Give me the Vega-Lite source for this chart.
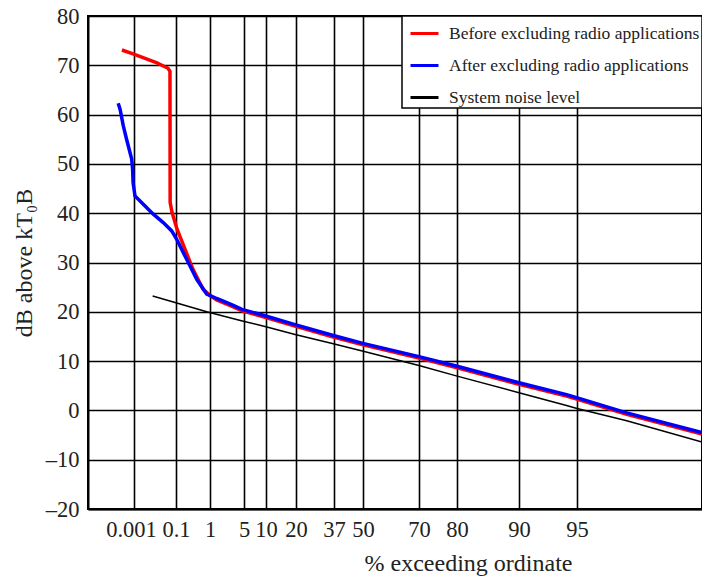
{
  "$schema": "https://vega.github.io/schema/vega-lite/v6.json",
  "width": 614,
  "height": 493,
  "autosize": {"type": "none"},
  "padding": {"left": 88, "top": 16, "right": 0, "bottom": 73},
  "background": "white",
  "config": {
    "view": {"stroke": "black", "strokeWidth": 2},
    "font": "Liberation Serif",
    "axis": {
      "labelFont": "Liberation Serif",
      "titleFont": "Liberation Serif",
      "labelColor": "#222",
      "titleColor": "#222",
      "titleFontWeight": "normal",
      "labelFontSize": 22.5,
      "titleFontSize": 24,
      "grid": true,
      "gridColor": "black",
      "gridOpacity": 1,
      "gridWidth": 1.6,
      "domainColor": "black",
      "domainWidth": 2,
      "ticks": false
    },
    "legend": {
      "orient": "top-right",
      "offset": 0,
      "padding": 2,
      "fillColor": "white",
      "strokeColor": "black",
      "strokeWidth": 1.5,
      "labelFont": "Liberation Serif",
      "labelFontSize": 17.5,
      "labelColor": "#222",
      "symbolType": "stroke",
      "symbolSize": 784,
      "symbolStrokeWidth": 3,
      "rowPadding": 8,
      "labelOffset": 9,
      "labelLimit": 400,
      "symbolOffset": 5
    }
  },
  "data": {
    "values": [
      {"series": "System noise level", "pct": 0.045, "db": 23.2},
      {"series": "System noise level", "pct": 0.0977, "db": 21.9},
      {"series": "System noise level", "pct": 0.913, "db": 20.0},
      {"series": "System noise level", "pct": 4.92, "db": 18.1},
      {"series": "System noise level", "pct": 9.77, "db": 17.0},
      {"series": "System noise level", "pct": 19.7, "db": 15.4},
      {"series": "System noise level", "pct": 36.7, "db": 13.5},
      {"series": "System noise level", "pct": 50.1, "db": 12.0},
      {"series": "System noise level", "pct": 70, "db": 9.1},
      {"series": "System noise level", "pct": 79.8, "db": 7.0},
      {"series": "System noise level", "pct": 90, "db": 3.6},
      {"series": "System noise level", "pct": 94.1, "db": 1.0},
      {"series": "System noise level", "pct": 95, "db": 0.4},
      {"series": "System noise level", "pct": 96.95, "db": -2.1},
      {"series": "System noise level", "pct": 99.9, "db": -6.4},

      {"series": "Before excluding radio applications", "pct": 0.00074, "db": 73.1},
      {"series": "Before excluding radio applications", "pct": 0.00098, "db": 72.3},
      {"series": "Before excluding radio applications", "pct": 0.0552, "db": 70.5},
      {"series": "Before excluding radio applications", "pct": 0.0811, "db": 69.4},
      {"series": "Before excluding radio applications", "pct": 0.0858, "db": 68.8},
      {"series": "Before excluding radio applications", "pct": 0.0862, "db": 42.2},
      {"series": "Before excluding radio applications", "pct": 0.0906, "db": 40.2},
      {"series": "Before excluding radio applications", "pct": 0.126, "db": 36.8},
      {"series": "Before excluding radio applications", "pct": 0.338, "db": 32.7},
      {"series": "Before excluding radio applications", "pct": 0.55, "db": 28.6},
      {"series": "Before excluding radio applications", "pct": 0.815, "db": 24.6},
      {"series": "Before excluding radio applications", "pct": 1.0, "db": 23.3},
      {"series": "Before excluding radio applications", "pct": 1.79, "db": 22.4},
      {"series": "Before excluding radio applications", "pct": 3.74, "db": 21.0},
      {"series": "Before excluding radio applications", "pct": 4.76, "db": 20.2},
      {"series": "Before excluding radio applications", "pct": 9.39, "db": 19.0},
      {"series": "Before excluding radio applications", "pct": 19.1, "db": 17.2},
      {"series": "Before excluding radio applications", "pct": 36.7, "db": 14.9},
      {"series": "Before excluding radio applications", "pct": 50, "db": 13.3},
      {"series": "Before excluding radio applications", "pct": 70, "db": 10.6},
      {"series": "Before excluding radio applications", "pct": 79.8, "db": 8.7},
      {"series": "Before excluding radio applications", "pct": 90, "db": 5.3},
      {"series": "Before excluding radio applications", "pct": 94.1, "db": 2.9},
      {"series": "Before excluding radio applications", "pct": 95.05, "db": 2.2},
      {"series": "Before excluding radio applications", "pct": 96.95, "db": -0.8},
      {"series": "Before excluding radio applications", "pct": 99.9, "db": -4.8},

      {"series": "After excluding radio applications", "pct": 0.00066, "db": 62.3},
      {"series": "After excluding radio applications", "pct": 0.0007, "db": 61.1},
      {"series": "After excluding radio applications", "pct": 0.00077, "db": 57.7},
      {"series": "After excluding radio applications", "pct": 0.00084, "db": 55.0},
      {"series": "After excluding radio applications", "pct": 0.00095, "db": 51.0},
      {"series": "After excluding radio applications", "pct": 0.00097, "db": 48.9},
      {"series": "After excluding radio applications", "pct": 0.00098, "db": 46.2},
      {"series": "After excluding radio applications", "pct": 0.0034, "db": 43.5},
      {"series": "After excluding radio applications", "pct": 0.0229, "db": 41.8},
      {"series": "After excluding radio applications", "pct": 0.0465, "db": 39.8},
      {"series": "After excluding radio applications", "pct": 0.07, "db": 38.1},
      {"series": "After excluding radio applications", "pct": 0.0899, "db": 36.4},
      {"series": "After excluding radio applications", "pct": 0.1185, "db": 34.7},
      {"series": "After excluding radio applications", "pct": 0.293, "db": 32.0},
      {"series": "After excluding radio applications", "pct": 0.471, "db": 29.3},
      {"series": "After excluding radio applications", "pct": 0.648, "db": 26.6},
      {"series": "After excluding radio applications", "pct": 0.913, "db": 23.6},
      {"series": "After excluding radio applications", "pct": 1.79, "db": 22.7},
      {"series": "After excluding radio applications", "pct": 3.74, "db": 21.3},
      {"series": "After excluding radio applications", "pct": 4.76, "db": 20.5},
      {"series": "After excluding radio applications", "pct": 9.39, "db": 19.3},
      {"series": "After excluding radio applications", "pct": 19.1, "db": 17.5},
      {"series": "After excluding radio applications", "pct": 36.7, "db": 15.2},
      {"series": "After excluding radio applications", "pct": 50, "db": 13.6},
      {"series": "After excluding radio applications", "pct": 70, "db": 10.9},
      {"series": "After excluding radio applications", "pct": 79.8, "db": 9.0},
      {"series": "After excluding radio applications", "pct": 90, "db": 5.6},
      {"series": "After excluding radio applications", "pct": 94.1, "db": 3.2},
      {"series": "After excluding radio applications", "pct": 95.05, "db": 2.5},
      {"series": "After excluding radio applications", "pct": 96.95, "db": -0.5},
      {"series": "After excluding radio applications", "pct": 99.9, "db": -4.5}
    ]
  },
  "encoding": {
    "x": {
      "field": "pct",
      "type": "quantitative",
      "scale": {
        "type": "linear",
        "domain": [0.00001, 0.001, 0.1, 1, 5, 10, 20, 37, 50, 70, 80, 90, 95, 99.9],
        "range": [0, 46, 88, 122, 156, 178, 208, 246, 275, 331, 369, 431, 489, 614],
        "nice": false,
        "zero": false
      },
      "axis": {
        "title": "% exceeding ordinate",
        "values": [0.001, 0.1, 1, 5, 10, 20, 37, 50, 70, 80, 90, 95],
        "labelExpr": "datum.value + ''",
        "labelOffset": {"condition": {"test": "datum.value == 0.001", "value": -3}, "value": 0},
        "labelPadding": 9,
        "titlePadding": 11,
        "titleX": 380,
        "titleAnchor": null
      }
    },
    "y": {
      "field": "db",
      "type": "quantitative",
      "scale": {"domain": [-20, 80], "nice": false, "zero": false},
      "axis": {
        "title": "dB above kT₀B",
        "values": [-20, -10, 0, 10, 20, 30, 40, 50, 60, 70, 80],
        "labelExpr": "datum.value < 0 ? '–' + abs(datum.value) : datum.value + ''",
        "labelPadding": 9,
        "titlePadding": 9
      }
    },
    "color": {
      "field": "series",
      "type": "nominal",
      "scale": {
        "domain": ["Before excluding radio applications", "After excluding radio applications", "System noise level"],
        "range": ["#ff0000", "#0000ff", "#000000"]
      },
      "legend": {"title": null}
    }
  },
  "layer": [
    {
      "transform": [{"filter": "datum.series === 'System noise level'"}],
      "mark": {"type": "line", "strokeWidth": 1.5}
    },
    {
      "transform": [{"filter": "datum.series === 'Before excluding radio applications'"}],
      "mark": {"type": "line", "strokeWidth": 3.5}
    },
    {
      "transform": [{"filter": "datum.series === 'After excluding radio applications'"}],
      "mark": {"type": "line", "strokeWidth": 3.5}
    }
  ]
}
